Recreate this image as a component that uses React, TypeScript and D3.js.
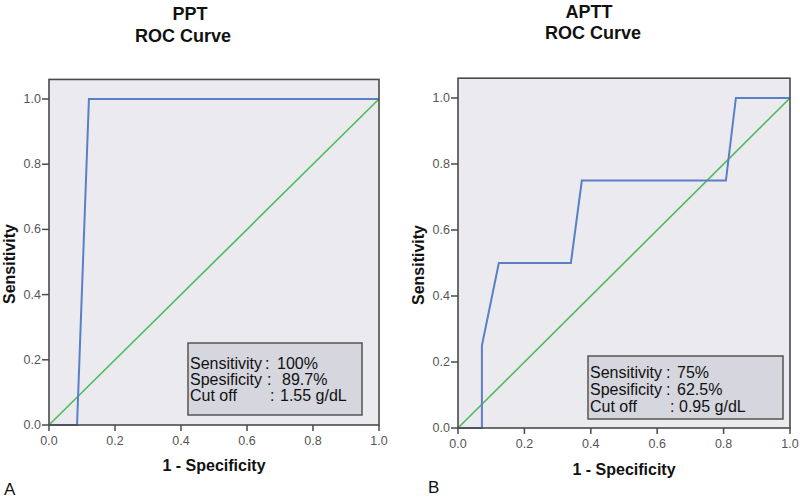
import React from "react";
import * as d3 from "d3";

// ---- data ----
const panelTitles = ["PPT", "APTT"];
const panelLetters = ["A", "B"];
const pptFpr = [0, 0.085, 0.121, 1];
const pptTpr = [0, 0, 1, 1];
const apttFpr = [0, 0.072, 0.072, 0.123, 0.34, 0.373, 0.807, 0.837, 1];
const apttTpr = [0, 0, 0.25, 0.5, 0.5, 0.75, 0.75, 1, 1];
const refLine = [0, 1];
const tickValues = [0, 0.2, 0.4, 0.6, 0.8, 1.0];
const legendLabels = ["Sensitivity", "Spesificity", "Cut off"];
const pptLegendValues = ["100%", "89.7%", "1.55 g/dL"];
const apttLegendValues = ["75%", "62.5%", "0.95 g/dL"];

// ---- layout ----
type Layout = {
  x0: number; x1: number; y0: number; y1: number;
  titleX: number; titleY1: number; subX: number; titleY2: number;
  ylabX: number; xlabX: number; xlabY: number; letterX: number; letterY: number;
  box: { x: number; y: number; w: number; h: number };
  legY: number[]; colonX: number[]; valX: number[];
};

const layouts: Layout[] = [
  {
    x0: 49, x1: 379, y0: 425, y1: 99,
    titleX: 190, titleY1: 20, subX: 183, titleY2: 42,
    ylabX: 15, xlabX: 214, xlabY: 471, letterX: 4, letterY: 495,
    box: { x: 188, y: 343, w: 174, h: 72 },
    legY: [369, 385, 401], colonX: [265, 267, 270], valX: [277, 282, 280],
  },
  {
    x0: 458, x1: 790, y0: 428, y1: 98,
    titleX: 589, titleY1: 18, subX: 593, titleY2: 39,
    ylabX: 424, xlabX: 624, xlabY: 475, letterX: 428, letterY: 493,
    box: { x: 588, y: 356, w: 195, h: 63 },
    legY: [378, 395, 412], colonX: [666, 666, 670], valX: [677, 677, 679],
  },
];

const curves = [
  { fpr: pptFpr, tpr: pptTpr, vals: pptLegendValues },
  { fpr: apttFpr, tpr: apttTpr, vals: apttLegendValues },
];

const FONT = "Arial, 'Liberation Sans', Helvetica, sans-serif";

function Panel({ i }: { i: number }) {
  const L = layouts[i];
  const c = curves[i];
  const x = d3.scaleLinear().domain([0, 1]).range([L.x0, L.x1]);
  const y = d3.scaleLinear().domain([0, 1]).range([L.y0, L.y1]);
  const top = y(1.06);
  const line = d3.line<[number, number]>().x((d) => x(d[0])).y((d) => y(d[1]));
  const rocPts: [number, number][] = c.fpr.map((f, k) => [f, c.tpr[k]]);
  const refPts: [number, number][] = refLine.map((v) => [v, v]);
  const fmt = d3.format(".1f");
  return (
    <g fontFamily={FONT}>
      <text x={L.titleX} y={L.titleY1} textAnchor="middle" fontWeight="bold" fontSize={18} fill="#111">
        {panelTitles[i]}
      </text>
      <text x={L.subX} y={L.titleY2} textAnchor="middle" fontWeight="bold" fontSize={18} fill="#111">
        ROC Curve
      </text>
      <rect x={L.x0} y={top} width={L.x1 - L.x0} height={L.y0 - top} fill="#ebebef" />
      <path d={line(refPts) || ""} fill="none" stroke="#4cbb5a" strokeWidth={1.6} />
      <path d={line(rocPts) || ""} fill="none" stroke="#5a7fc6" strokeWidth={2} />
      <rect x={L.x0} y={top} width={L.x1 - L.x0} height={L.y0 - top} fill="none" stroke="#4a4a4a" strokeWidth={1.6} />
      {tickValues.map((t) => (
        <g key={"x" + t}>
          <line x1={x(t)} x2={x(t)} y1={L.y0} y2={L.y0 + 6} stroke="#4a4a4a" strokeWidth={1.5} />
          <text x={x(t)} y={L.y0 + 20} textAnchor="middle" fontSize={12.5} fill="#555">
            {fmt(t)}
          </text>
        </g>
      ))}
      {tickValues.map((t) => (
        <g key={"y" + t}>
          <line x1={L.x0 - 7} x2={L.x0} y1={y(t)} y2={y(t)} stroke="#4a4a4a" strokeWidth={1.5} />
          <text x={L.x0 - 8} y={y(t) + 4} textAnchor="end" fontSize={12.5} fill="#555">
            {fmt(t)}
          </text>
        </g>
      ))}
      <text
        transform={`translate(${L.ylabX},${(L.y0 + L.y1) / 2 + 2}) rotate(-90)`}
        textAnchor="middle" fontWeight="bold" fontSize={16} fill="#111"
      >
        Sensitivity
      </text>
      <text x={L.xlabX} y={L.xlabY} textAnchor="middle" fontWeight="bold" fontSize={16} fill="#111">
        1 - Specificity
      </text>
      <text x={L.letterX} y={L.letterY} fontSize={17} fill="#111">
        {panelLetters[i]}
      </text>
      <rect x={L.box.x} y={L.box.y} width={L.box.w} height={L.box.h} fill="#d6d6de" stroke="#555" strokeWidth={1.5} />
      {legendLabels.map((lab, k) => (
        <g key={lab} fontSize={16} fill="#111">
          <text x={L.box.x + 2} y={L.legY[k]}>{lab}</text>
          <text x={L.colonX[k]} y={L.legY[k]}>:</text>
          <text x={L.valX[k]} y={L.legY[k]}>{c.vals[k]}</text>
        </g>
      ))}
    </g>
  );
}

export default function App() {
  return (
    <svg
      width={800}
      height={498}
      style={{ position: "absolute", left: 0, top: 0, background: "#fff" }}
    >
      <rect width={800} height={498} fill="#fff" />
      <Panel i={0} />
      <Panel i={1} />
    </svg>
  );
}
